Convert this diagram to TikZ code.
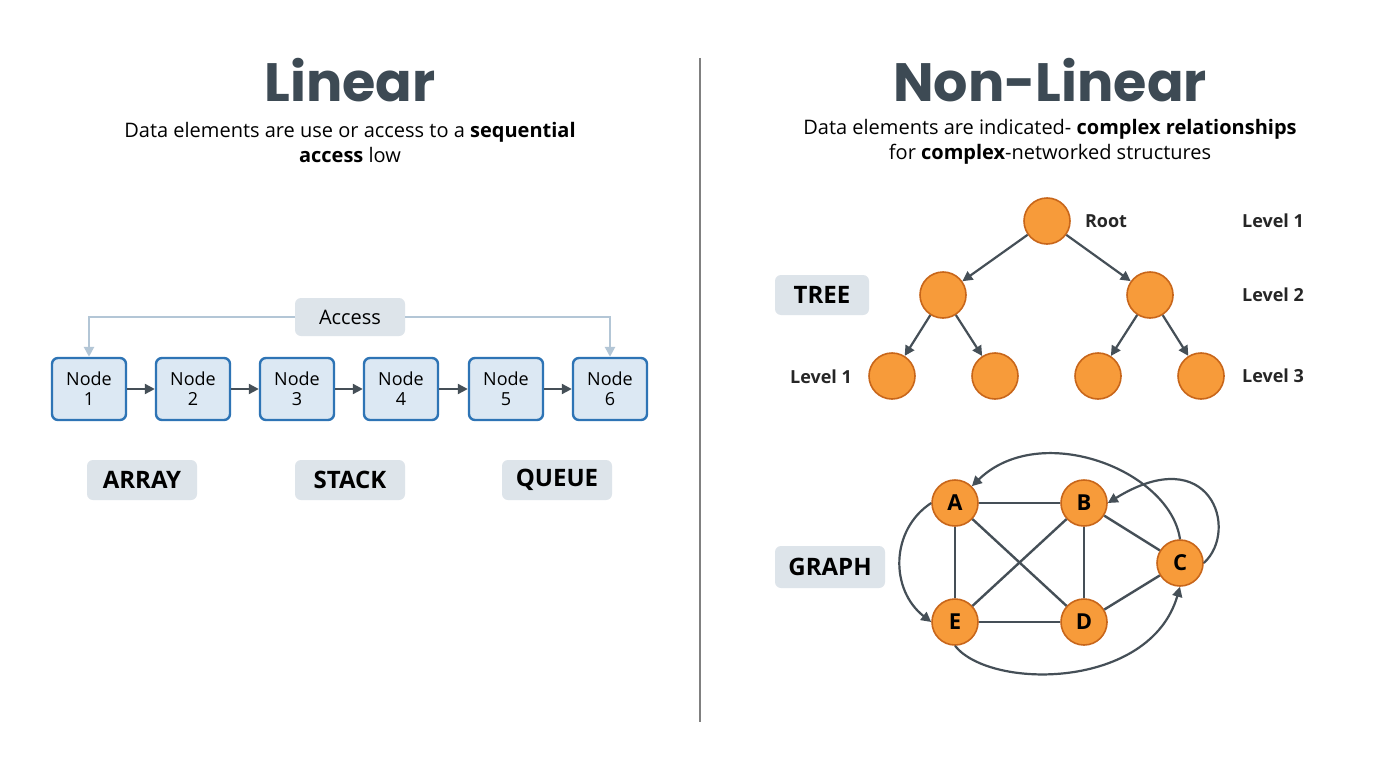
\documentclass[tikz,border=0pt]{standalone}
\usepackage{fontspec}
\setmainfont{Open Sans}
\newfontfamily\titlefont{Poppins}
\usetikzlibrary{arrows.meta}
\definecolor{ink}{HTML}{3D4A54}
\definecolor{edge}{HTML}{454F57}
\definecolor{boxfill}{HTML}{DCE8F3}
\definecolor{boxline}{HTML}{2E74B5}
\definecolor{tagfill}{HTML}{DDE4EA}
\definecolor{acc}{HTML}{B3C6D6}
\definecolor{orng}{HTML}{F79B3A}
\definecolor{orngline}{HTML}{C8661A}
\begin{document}
\begin{tikzpicture}[x=0.5pt,y=-0.5pt,
  lnode/.style={draw=boxline,line width=1.2pt,fill=boxfill,rounded corners=3pt,minimum width=37pt,minimum height=31pt,align=center,font=\fontsize{9}{10}\selectfont,inner sep=1pt},
  tag/.style={fill=tagfill,rounded corners=3pt,minimum height=20pt,font=\bfseries\fontsize{12}{14}\selectfont,inner xsep=6pt},
  circ/.style={circle,fill=orng,draw=orngline,line width=0.8pt,minimum size=23pt,inner sep=0pt,font=\fontsize{11}{12}\selectfont\bfseries},
  arr/.style={-{Triangle[length=5pt,width=5pt]},draw=edge,line width=1.1pt},
  gl/.style={draw=edge,line width=1.2pt},
  lbl/.style={font=\bfseries\fontsize{9}{11}\selectfont,text=black!85}]
\useasboundingbox[fill=white] (0,0) rectangle (1400,781);
\node[font=\titlefont\bfseries\fontsize{27}{30}\selectfont,text=ink] (t1) at (350,80) {Linear};
\node[font=\titlefont\bfseries\fontsize{27}{30}\selectfont,text=ink] (t2) at (1050,80) {Non-Linear};
\node[align=center,font=\fontsize{10}{12.5}\selectfont] (s1) at (350,142) {Data elements are use or access to a \textbf{sequential}\\ \textbf{access} low};
\node[align=center,font=\fontsize{10}{12.5}\selectfont] (s2) at (1050,142) {Data elements are indicated- \textbf{complex relationships}\\ for \textbf{complex}-networked structures};
\draw[black!50,line width=0.6pt] (700,58) -- (700,722);
% linear
\foreach \i/\x in {1/89,2/193,3/297,4/401,5/506,6/610}
  \node[lnode] (n\i) at (\x,389) {Node\\ \i};
\foreach \a/\b in {1/2,2/3,3/4,4/5,5/6} \draw[arr] (n\a) -- (n\b);
\node[tag,minimum width=55pt,font=\fontsize{10}{12}\selectfont,minimum height=19pt] (acc) at (350,317) {Access};
\draw[acc,line width=1.4pt,-{Triangle[length=5pt,width=5pt]}] (acc.west) -| (n1.north);
\draw[acc,line width=1.4pt,-{Triangle[length=5pt,width=5pt]}] (acc.east) -| (n6.north);
\node[tag,minimum width=55pt] (arr) at (142,480) {ARRAY};
\node[tag,minimum width=55pt] (stk) at (350,480) {STACK};
\node[tag,minimum width=55pt] (que) at (557,480) {QUEUE};
% tree
\node[circ] (r) at (1047,221) {};
\node[circ] (l) at (943,295) {};
\node[circ] (rr) at (1150,295) {};
\node[circ] (a1) at (892,376) {};
\node[circ] (a2) at (995,376) {};
\node[circ] (a3) at (1098,376) {};
\node[circ] (a4) at (1201,376) {};
\foreach \a/\b in {r/l,r/rr,l/a1,l/a2,rr/a3,rr/a4} \draw[arr] (\a) -- (\b);
\node[lbl] (rootl) at (1106,221) {Root};
\node[lbl] (lv1) at (1273,221) {Level 1};
\node[lbl] (lv2) at (1273,295) {Level 2};
\node[lbl] (lv3) at (1273,376) {Level 3};
\node[lbl] (lv1b) at (821,377) {Level 1};
\node[tag,minimum width=47pt] (tree) at (822,295) {TREE};
% graph
\node[circ] (A) at (955,503) {A};
\node[circ] (B) at (1084,503) {B};
\node[circ] (C) at (1180,563) {C};
\node[circ] (D) at (1084,622) {D};
\node[circ] (E) at (955,622) {E};
\foreach \a/\b in {A/B,A/E,A/D,B/E,B/D,B/C,C/D,E/D} \draw[gl] (\a) -- (\b);
\draw[arr] (C.north) .. controls (1170,470) and (1040,420) .. (A.north east);
\draw[arr] (C.east) .. controls (1240,530) and (1210,440) .. (B.east);
\draw[arr] (A.west) .. controls (890,530) and (890,590) .. (E.west);
\draw[arr] (E.south) .. controls (990,690) and (1150,690) .. (C.south);
\node[tag,minimum width=55pt,minimum height=21pt] (graph) at (830,567) {GRAPH};
\end{tikzpicture}
\end{document}
